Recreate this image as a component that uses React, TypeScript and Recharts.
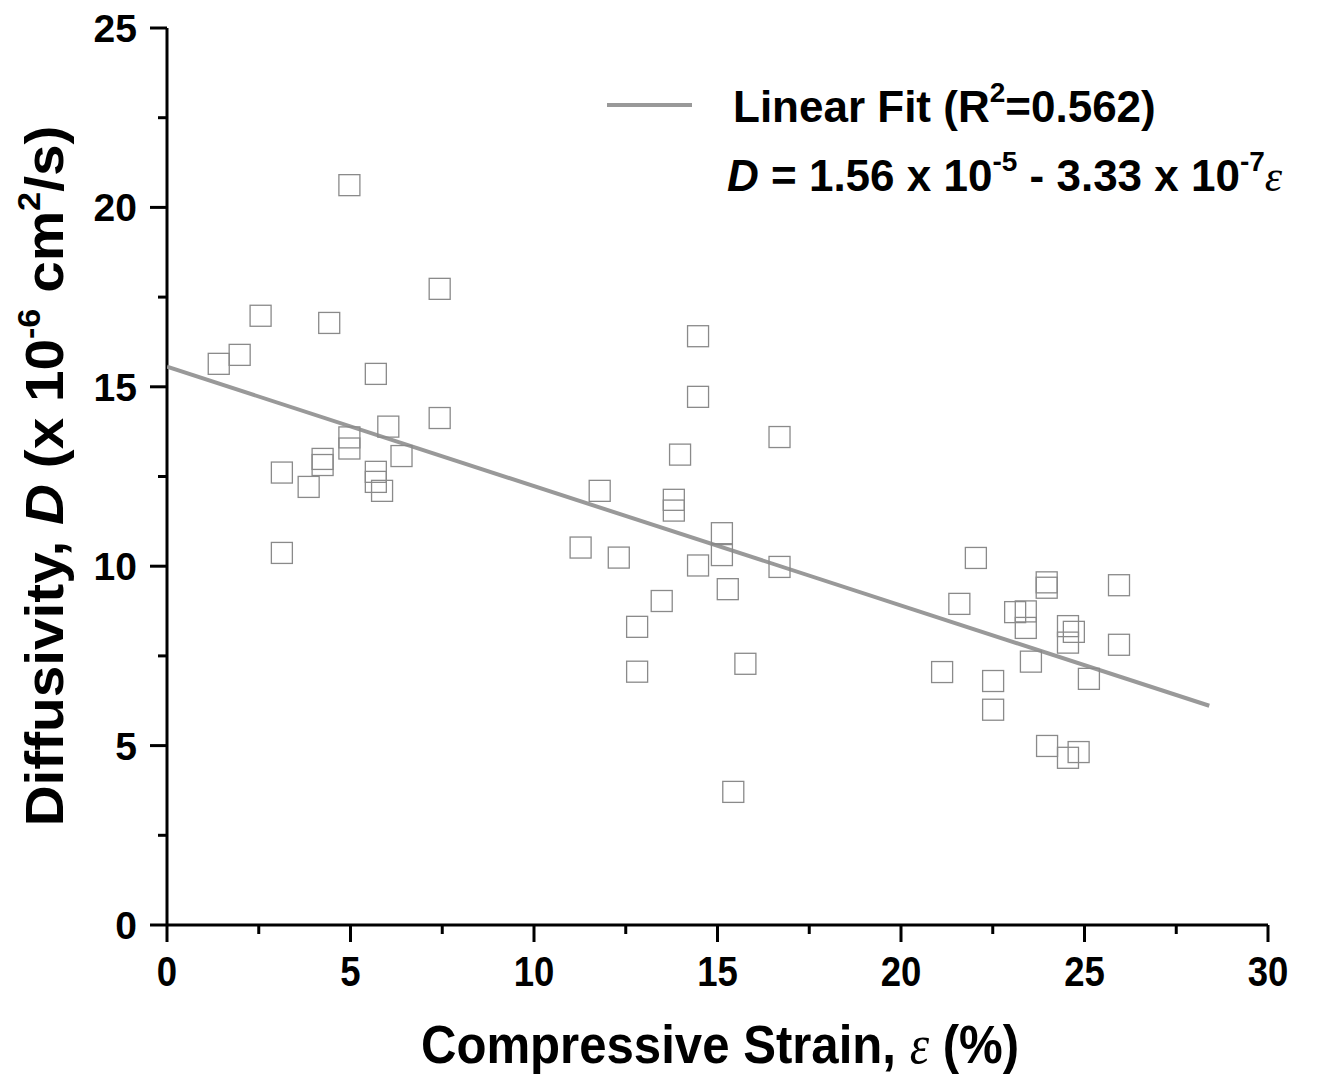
import { ScatterChart, Scatter, XAxis, YAxis } from "recharts";

// strain (%) and diffusivity (x 1e-6 cm^2/s)
const strain = [
  4.97, 7.43, 2.55, 4.42, 1.98, 1.41, 5.69, 7.43, 6.03, 4.97,
  4.97, 6.39, 4.24, 4.24, 3.13, 3.86, 5.69, 5.69, 5.86, 3.13,
  14.47, 14.47, 16.69, 13.98, 11.79, 13.81, 13.81, 15.12, 15.12, 11.27,
  12.31, 14.47, 16.69, 15.28, 13.48, 12.81, 12.81, 15.76, 15.43,
  22.04, 23.97, 23.97, 25.94, 21.59, 23.11, 23.4, 23.4, 24.55, 24.71,
  24.55, 25.94, 23.54, 21.12, 22.51, 25.12, 22.51, 23.98, 24.55, 24.84,
];
const diffusivity = [
  20.62, 17.73, 16.98, 16.78, 15.89, 15.64, 15.36, 14.13, 13.89, 13.59,
  13.28, 13.07, 12.99, 12.82, 12.61, 12.21, 12.63, 12.35, 12.1, 10.37,
  16.41, 14.72, 13.6, 13.11, 12.1, 11.85, 11.55, 10.92, 10.31, 10.52,
  10.24, 10.02, 9.98, 9.36, 9.03, 8.31, 7.06, 7.28, 3.71,
  10.23, 9.55, 9.4, 9.47, 8.95, 8.72, 8.74, 8.28, 8.33, 8.17,
  7.87, 7.81, 7.34, 7.05, 6.8, 6.86, 6.0, 4.99, 4.66, 4.82,
];

// linear fit endpoints
const fitX = [0, 28.4];
const fitY = [15.56, 6.11];

const xTicks = [0, 2.5, 5, 7.5, 10, 12.5, 15, 17.5, 20, 22.5, 25, 27.5, 30];
const yTicks = [0, 2.5, 5, 7.5, 10, 12.5, 15, 17.5, 20, 22.5, 25];

const points = strain.map((x, i) => ({ x, y: diffusivity[i] }));
const fit = fitX.map((x, i) => ({ x, y: fitY[i] }));

const FONT = "'Liberation Sans', Arial, sans-serif";
const SERIF = "'Liberation Serif', serif";

const OpenSquare = (props: any) => {
  const { cx, cy } = props;
  if (cx == null || cy == null) return null;
  return (
    <rect x={cx - 10.5} y={cy - 10.5} width={21} height={21} fill="none" stroke="#8a8a8a" strokeWidth={1.3} />
  );
};

const XTick = (props: any) => {
  const { x, y, payload } = props;
  const major = payload.value % 5 === 0;
  return (
    <g>
      <line x1={x} y1={y} x2={x} y2={y + (major ? 17 : 9)} stroke="#000" strokeWidth={3} />
      {major && (
        <text
          transform={`translate(${x},${y + 61}) scale(0.85,1)`}
          textAnchor="middle"
          fontFamily={FONT}
          fontWeight="bold"
          fontSize={43}
          fill="#000"
        >
          {payload.value}
        </text>
      )}
    </g>
  );
};

const YTick = (props: any) => {
  const { x, y, payload } = props;
  const major = payload.value % 5 === 0;
  return (
    <g>
      <line x1={x} y1={y} x2={x - (major ? 17 : 9)} y2={y} stroke="#000" strokeWidth={3} />
      {major && (
        <text x={x - 30} y={y + 14} textAnchor="end" fontFamily={FONT} fontWeight="bold" fontSize={39} fill="#000">
          {payload.value}
        </text>
      )}
    </g>
  );
};

export default function App() {
  return (
    <div style={{ position: "absolute", left: 0, top: 0, width: 1340, height: 1081, background: "#fff" }}>
      <ScatterChart width={1340} height={1081} margin={{ top: 28, right: 72, bottom: 0, left: 0 }}>
        <XAxis
          type="number"
          dataKey="x"
          domain={[0, 30]}
          ticks={xTicks}
          interval={0}
          height={156}
          tickSize={0}
          tickMargin={0}
          tickLine={false}
          axisLine={{ stroke: "#000", strokeWidth: 3 }}
          tick={<XTick />}
          allowDataOverflow
        />
        <YAxis
          type="number"
          dataKey="y"
          domain={[0, 25]}
          ticks={yTicks}
          interval={0}
          width={167}
          tickSize={0}
          tickMargin={0}
          tickLine={false}
          axisLine={{ stroke: "#000", strokeWidth: 3 }}
          tick={<YTick />}
          allowDataOverflow
        />
        <Scatter data={fit} line={{ stroke: "#999", strokeWidth: 4 }} lineType="joint" shape={() => null} isAnimationActive={false} />
        <Scatter data={points} shape={<OpenSquare />} isAnimationActive={false} />
      </ScatterChart>
      <svg width={1340} height={1081} style={{ position: "absolute", left: 0, top: 0, pointerEvents: "none" }}>
        {/* legend */}
        <line x1={607} y1={105} x2={692} y2={105} stroke="#999" strokeWidth={4} />
        <text x={733} y={122} fontFamily={FONT} fontWeight="bold" fontSize={44} fill="#000">
          Linear Fit (R<tspan fontSize={28} dy={-20}>2</tspan>
          <tspan dy={20}>=0.562)</tspan>
        </text>
        <text x={727} y={191} fontFamily={FONT} fontWeight="bold" fontSize={44} fill="#000">
          <tspan fontStyle="italic">D</tspan> = 1.56 x 10<tspan fontSize={28} dy={-20}>-5</tspan>
          <tspan dy={20}> - 3.33 x 10</tspan>
          <tspan fontSize={28} dy={-20}>-7</tspan>
          <tspan dy={20} fontFamily={SERIF} fontStyle="italic" fontWeight="normal">ε</tspan>
        </text>
        {/* axis titles */}
        <text
          transform="translate(720,1063) scale(0.91,1)"
          textAnchor="middle"
          fontFamily={FONT}
          fontWeight="bold"
          fontSize={54}
          fill="#000"
        >
          Compressive Strain, <tspan fontFamily={SERIF} fontStyle="italic" fontWeight="normal">ε</tspan> (%)
        </text>
        <text
          transform="translate(63,476) rotate(-90) scale(1.07,1)"
          textAnchor="middle"
          fontFamily={FONT}
          fontWeight="bold"
          fontSize={53}
          fill="#000"
        >
          Diffusivity, <tspan fontStyle="italic">D</tspan> (x 10<tspan fontSize={32} dy={-23}>-6</tspan>
          <tspan dy={23}> cm</tspan>
          <tspan fontSize={32} dy={-23}>2</tspan>
          <tspan dy={23}>/s)</tspan>
        </text>
      </svg>
    </div>
  );
}
